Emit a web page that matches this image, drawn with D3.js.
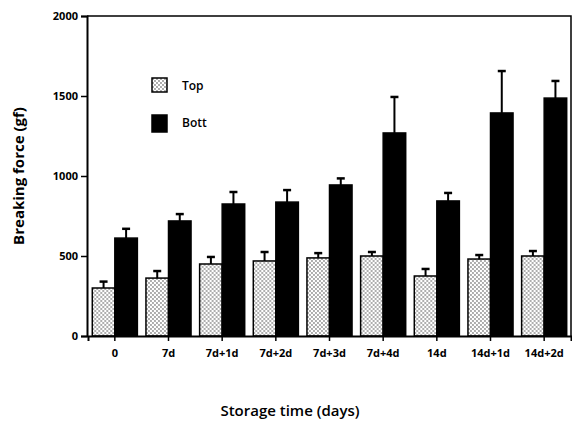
<!DOCTYPE html>
<html>
<head>
<meta charset="utf-8">
<script src="https://cdn.jsdelivr.net/npm/d3@7"></script>
<style>
  body { margin: 0; background: #fff; }
  text { font-family: "Open Sans", "DejaVu Sans", sans-serif; }
</style>
</head>
<body>
<svg id="chart" width="572" height="425"></svg>
<script>
// data
const categories = ["0", "7d", "7d+1d", "7d+2d", "7d+3d", "7d+4d", "14d", "14d+1d", "14d+2d"];
const topValues  = [300, 362, 450, 469, 488, 500, 375, 481, 500];
const topErrors  = [40, 44, 44, 56, 30, 25, 44, 25, 31];
const bottValues = [612, 719, 825, 837, 944, 1269, 844, 1394, 1487];
const bottErrors = [58, 43, 75, 75, 41, 225, 50, 262, 107];
const yTicks = [0, 500, 1000, 1500, 2000];
const seriesNames = ["Top", "Bott"];

const svg = d3.select("#chart");
const margin = { top: 16, right: 1, bottom: 89, left: 87 };
const width = +svg.attr("width");
const height = +svg.attr("height");

// stipple pattern for the Top bars
const defs = svg.append("defs");
const pat = defs.append("pattern")
    .attr("id", "dots")
    .attr("width", 4).attr("height", 4)
    .attr("patternUnits", "userSpaceOnUse");
pat.append("rect").attr("width", 4).attr("height", 4).attr("fill", "#fff");
pat.append("circle").attr("cx", 1).attr("cy", 1).attr("r", 0.9).attr("fill", "#888");
pat.append("circle").attr("cx", 3).attr("cy", 3).attr("r", 0.9).attr("fill", "#888");

const x = d3.scaleBand()
    .domain(categories)
    .range([margin.left + 1, width - margin.right])
    .paddingInner(0.16)
    .paddingOuter(0.08);
const xSub = d3.scaleBand()
    .domain(seriesNames)
    .range([0, x.bandwidth()]);
const y = d3.scaleLinear()
    .domain([0, 2000])
    .range([height - margin.bottom, margin.top]);

const rows = categories.map((c, i) => ({
    cat: c,
    vals: [
        { key: "Top", v: topValues[i], e: topErrors[i] },
        { key: "Bott", v: bottValues[i], e: bottErrors[i] }
    ]
}));

const fill = k => k === "Top" ? "url(#dots)" : "#000";

const groups = svg.append("g").selectAll("g")
    .data(rows)
    .join("g")
    .attr("transform", d => `translate(${x(d.cat)},0)`);

// error bars (drawn first so the bar covers the lower half)
groups.selectAll("g.err")
    .data(d => d.vals)
    .join("g")
    .attr("class", "err")
    .each(function(d) {
        const g = d3.select(this);
        const cx = xSub(d.key) + xSub.bandwidth() / 2;
        g.append("line")
            .attr("x1", cx).attr("x2", cx)
            .attr("y1", y(d.v)).attr("y2", y(d.v + d.e))
            .attr("stroke", "#000").attr("stroke-width", 2);
        g.append("line")
            .attr("x1", cx - 4).attr("x2", cx + 4)
            .attr("y1", y(d.v + d.e)).attr("y2", y(d.v + d.e))
            .attr("stroke", "#000").attr("stroke-width", 2.5);
    });

groups.selectAll("rect")
    .data(d => d.vals)
    .join("rect")
    .attr("x", d => xSub(d.key))
    .attr("y", d => y(d.v))
    .attr("width", xSub.bandwidth())
    .attr("height", d => y(0) - y(d.v))
    .attr("fill", d => fill(d.key))
    .attr("stroke", "#000")
    .attr("stroke-width", 1.5);

// frame top and right
svg.append("path")
    .attr("d", `M${margin.left},${margin.top}H${width - margin.right}V${height - margin.bottom}`)
    .attr("fill", "none")
    .attr("stroke", "#000")
    .attr("stroke-width", 1.5);

// axes
const yAxis = svg.append("g")
    .attr("transform", `translate(${margin.left},0)`)
    .call(d3.axisLeft(y).tickValues(yTicks).tickFormat(d3.format("d")).tickSize(6).tickPadding(3));
const xAxis = svg.append("g")
    .attr("transform", `translate(0,${height - margin.bottom})`)
    .call(d3.axisBottom(x).tickSize(5).tickPadding(8));

[yAxis, xAxis].forEach(a => {
    a.select(".domain").attr("stroke-width", 2);
    a.selectAll(".tick line").attr("stroke-width", 1.5);
    a.selectAll("text")
        .style("font-family", "\"Open Sans\", sans-serif")
        .style("font-weight", "bold")
        .style("font-size", "11px")
        .attr("fill", "#000");
});

// axis titles
svg.append("text")
    .attr("transform", `translate(24,${(margin.top + height - margin.bottom) / 2}) rotate(-90)`)
    .attr("text-anchor", "middle")
    .style("font-size", "15px")
    .style("font-weight", "bold")
    .text("Breaking force (gf)");
svg.append("text")
    .attr("x", 290)
    .attr("y", 416)
    .attr("text-anchor", "middle")
    .style("font-size", "15px")
    .style("font-weight", "600")
    .text("Storage time (days)");

// legend
const legend = svg.append("g").attr("transform", "translate(152,78)");
seriesNames.forEach((k, i) => {
    legend.append("rect")
        .attr("x", 0)
        .attr("y", i * 37)
        .attr("width", 15)
        .attr("height", k === "Top" ? 14 : 17)
        .attr("fill", fill(k))
        .attr("stroke", "#000")
        .attr("stroke-width", 1.5);
    legend.append("text")
        .attr("x", 30)
        .attr("y", i * 37 + 12)
        .style("font-size", "12px")
        .style("font-weight", "600")
        .text(k);
});
</script>
</body>
</html>
